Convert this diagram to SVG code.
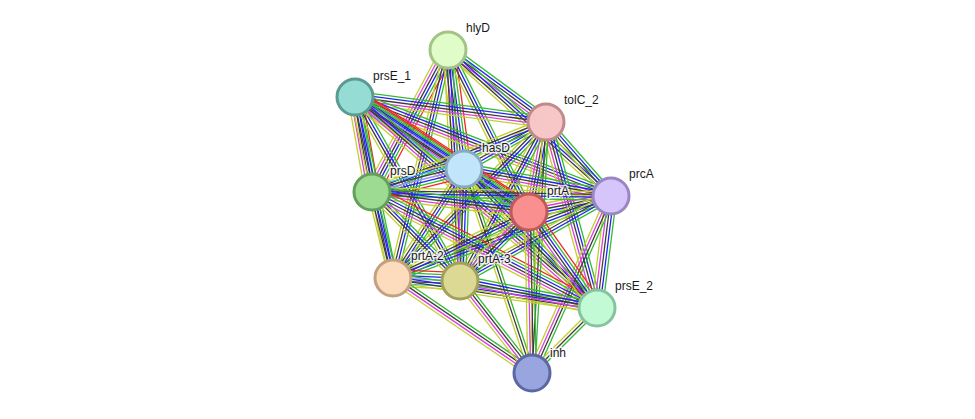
<svg xmlns="http://www.w3.org/2000/svg" xmlns:xlink="http://www.w3.org/1999/xlink" width="975" height="419" viewBox="0 0 975 419">
<style>
.l{stroke-width:1.3;vector-effect:non-scaling-stroke;fill:none}
.r{stroke:#ee2a22}.g{stroke:#33bb33}.b{stroke:#2424ee}.k{stroke:#3c3c3c}.m{stroke:#dd3fdd}.y{stroke:#c3cf2e}.c{stroke:#3cbcd6}.v{stroke:#9494ff}
.n{stroke-width:3}
.t{font-family:"Liberation Sans",Arial,sans-serif;font-size:12px;fill:#1a1a1a;stroke:#ffffff;stroke-width:3;stroke-opacity:0.85;paint-order:stroke;stroke-linejoin:round}
</style>
<defs>
<g id="E3"><line class="l g" x1="0" y1="-2.8" x2="1" y2="-2.8"/><line class="l k" x1="0" y1="0" x2="1" y2="0"/><line class="l y" x1="0" y1="2.8" x2="1" y2="2.8"/></g>
<g id="E4"><line class="l g" x1="0" y1="-4.2" x2="1" y2="-4.2"/><line class="l b" x1="0" y1="-1.4" x2="1" y2="-1.4"/><line class="l k" x1="0" y1="1.4" x2="1" y2="1.4"/><line class="l y" x1="0" y1="4.2" x2="1" y2="4.2"/></g>
<g id="E4m"><line class="l g" x1="0" y1="-4.2" x2="1" y2="-4.2"/><line class="l k" x1="0" y1="-1.4" x2="1" y2="-1.4"/><line class="l m" x1="0" y1="1.4" x2="1" y2="1.4"/><line class="l y" x1="0" y1="4.2" x2="1" y2="4.2"/></g>
<g id="E5"><line class="l g" x1="0" y1="-5.6" x2="1" y2="-5.6"/><line class="l b" x1="0" y1="-2.8" x2="1" y2="-2.8"/><line class="l k" x1="0" y1="0" x2="1" y2="0"/><line class="l m" x1="0" y1="2.8" x2="1" y2="2.8"/><line class="l y" x1="0" y1="5.6" x2="1" y2="5.6"/></g>
<g id="E6"><line class="l r" x1="0" y1="-7" x2="1" y2="-7"/><line class="l g" x1="0" y1="-4.2" x2="1" y2="-4.2"/><line class="l b" x1="0" y1="-1.4" x2="1" y2="-1.4"/><line class="l k" x1="0" y1="1.4" x2="1" y2="1.4"/><line class="l m" x1="0" y1="4.2" x2="1" y2="4.2"/><line class="l y" x1="0" y1="7" x2="1" y2="7"/></g>
<g id="E7"><line class="l r" x1="0" y1="-8.4" x2="1" y2="-8.4"/><line class="l g" x1="0" y1="-5.6" x2="1" y2="-5.6"/><line class="l b" x1="0" y1="-2.8" x2="1" y2="-2.8"/><line class="l v" x1="0" y1="0" x2="1" y2="0"/><line class="l k" x1="0" y1="2.8" x2="1" y2="2.8"/><line class="l c" x1="0" y1="5.6" x2="1" y2="5.6"/><line class="l y" x1="0" y1="8.4" x2="1" y2="8.4"/></g>
</defs>
<rect width="975" height="419" fill="#ffffff"/>
<g id="edges">
<use href="#E5" transform="matrix(98,72,-0.592,0.806,448,50)"/>
<use href="#E6" transform="matrix(16,119,-0.991,0.133,448,50)"/>
<use href="#E6" transform="matrix(-76,142,-0.882,-0.472,448,50)"/>
<use href="#E4" transform="matrix(81,162,-0.894,0.447,448,50)"/>
<use href="#E4" transform="matrix(163,146,-0.667,0.745,448,50)"/>
<use href="#E4" transform="matrix(-55,228,-0.972,-0.235,448,50)"/>
<use href="#E4" transform="matrix(12,231,-0.999,0.052,448,50)"/>
<use href="#E5" transform="matrix(191,25,-0.130,0.992,355,97)"/>
<use href="#E5" transform="matrix(256,99,-0.361,0.933,355,97)"/>
<use href="#E7" transform="matrix(109,72,-0.551,0.835,355,97)"/>
<use href="#E6" transform="matrix(174,115,-0.551,0.834,355,97)"/>
<use href="#E6" transform="matrix(17,95,-0.984,0.176,355,97)"/>
<use href="#E4" transform="matrix(38,181,-0.979,0.206,355,97)"/>
<use href="#E4" transform="matrix(105,184,-0.868,0.496,355,97)"/>
<use href="#E5" transform="matrix(242,211,-0.657,0.754,355,97)"/>
<use href="#E4" transform="matrix(-82,47,-0.497,-0.868,546,122)"/>
<use href="#E4" transform="matrix(65,74,-0.751,0.660,546,122)"/>
<use href="#E5" transform="matrix(-17,90,-0.983,-0.186,546,122)"/>
<use href="#E4" transform="matrix(-174,70,-0.373,-0.928,546,122)"/>
<use href="#E4" transform="matrix(-153,156,-0.714,-0.700,546,122)"/>
<use href="#E4" transform="matrix(-86,159,-0.879,-0.476,546,122)"/>
<use href="#E5" transform="matrix(51,186,-0.964,0.264,546,122)"/>
<use href="#E3" transform="matrix(-14,251,-0.998,-0.056,546,122)"/>
<use href="#E5" transform="matrix(147,27,-0.181,0.983,464,169)"/>
<use href="#E7" transform="matrix(65,43,-0.552,0.834,464,169)"/>
<use href="#E7" transform="matrix(-92,23,-0.243,-0.970,464,169)"/>
<use href="#E4" transform="matrix(-71,109,-0.838,-0.546,464,169)"/>
<use href="#E5" transform="matrix(-4,112,-0.999,-0.036,464,169)"/>
<use href="#E4" transform="matrix(133,139,-0.722,0.691,464,169)"/>
<use href="#E3" transform="matrix(68,204,-0.949,0.316,464,169)"/>
<use href="#E5" transform="matrix(-82,16,-0.192,-0.982,611,196)"/>
<use href="#E4" transform="matrix(-239,-4,0.017,-1,611,196)"/>
<use href="#E4" transform="matrix(-218,82,-0.352,-0.936,611,196)"/>
<use href="#E4" transform="matrix(-151,85,-0.490,-0.871,611,196)"/>
<use href="#E5" transform="matrix(-14,112,-0.992,-0.124,611,196)"/>
<use href="#E4m" transform="matrix(-79,177,-0.913,-0.408,611,196)"/>
<use href="#E5" transform="matrix(157,20,-0.126,0.992,372,192)"/>
<use href="#E4" transform="matrix(21,86,-0.972,0.237,372,192)"/>
<use href="#E4" transform="matrix(88,89,-0.711,0.703,372,192)"/>
<use href="#E6" transform="matrix(225,116,-0.458,0.889,372,192)"/>
<use href="#E4" transform="matrix(-136,66,-0.437,-0.899,529,212)"/>
<use href="#E5" transform="matrix(-69,69,-0.707,-0.707,529,212)"/>
<use href="#E6" transform="matrix(68,96,-0.816,0.578,529,212)"/>
<use href="#E4m" transform="matrix(3,161,-1,0.019,529,212)"/>
<use href="#E7" transform="matrix(67,3,-0.045,0.999,393,278)"/>
<use href="#E4" transform="matrix(204,30,-0.145,0.989,393,278)"/>
<use href="#E4m" transform="matrix(139,95,-0.564,0.825,393,278)"/>
<use href="#E5" transform="matrix(137,27,-0.193,0.981,460,281)"/>
<use href="#E4m" transform="matrix(72,92,-0.788,0.616,460,281)"/>
<use href="#E3" transform="matrix(-65,65,-0.707,-0.707,597,308)"/>
</g>
<g id="hlyD"><circle class="n" cx="448" cy="50" r="18" fill="#e0fcc8" stroke="#a4c386"/><text class="t" x="466" y="32">hlyD</text></g>
<g id="prsE_1"><circle class="n" cx="355" cy="97" r="18" fill="#95ddd4" stroke="#5b9a91"/><text class="t" x="373" y="80">prsE_1</text></g>
<g id="tolC_2"><circle class="n" cx="546" cy="122" r="18" fill="#f7c6c6" stroke="#c08a8a"/><text class="t" x="564" y="104">tolC_2</text></g>
<g id="hasD"><circle class="n" cx="464" cy="169" r="18" fill="#c1e6fb" stroke="#86aabe"/><text class="t" x="482" y="152">hasD</text></g>
<g id="prcA"><circle class="n" cx="611" cy="196" r="18" fill="#d6c5fb" stroke="#9a86c4"/><text class="t" x="629" y="178">prcA</text></g>
<g id="prsD"><circle class="n" cx="372" cy="192" r="18" fill="#9ddb92" stroke="#63a05a"/><text class="t" x="390" y="175">prsD</text></g>
<g id="prtA"><circle class="n" cx="529" cy="212" r="18" fill="#fa8f8f" stroke="#c05a5a"/><text class="t" x="547" y="195">prtA</text></g>
<g id="prtA-2"><circle class="n" cx="393" cy="278" r="18" fill="#fddcbd" stroke="#c3a07e"/><text class="t" x="411" y="260">prtA-2</text></g>
<g id="prtA-3"><circle class="n" cx="460" cy="281" r="18" fill="#dbd993" stroke="#a3a05c"/><text class="t" x="478" y="263">prtA-3</text></g>
<g id="prsE_2"><circle class="n" cx="597" cy="308" r="18" fill="#c2fad6" stroke="#86c4a0"/><text class="t" x="615" y="290">prsE_2</text></g>
<g id="inh"><circle class="n" cx="532" cy="373" r="18" fill="#99a5de" stroke="#5c68a3"/><text class="t" x="550" y="357">inh</text></g>
</svg>
